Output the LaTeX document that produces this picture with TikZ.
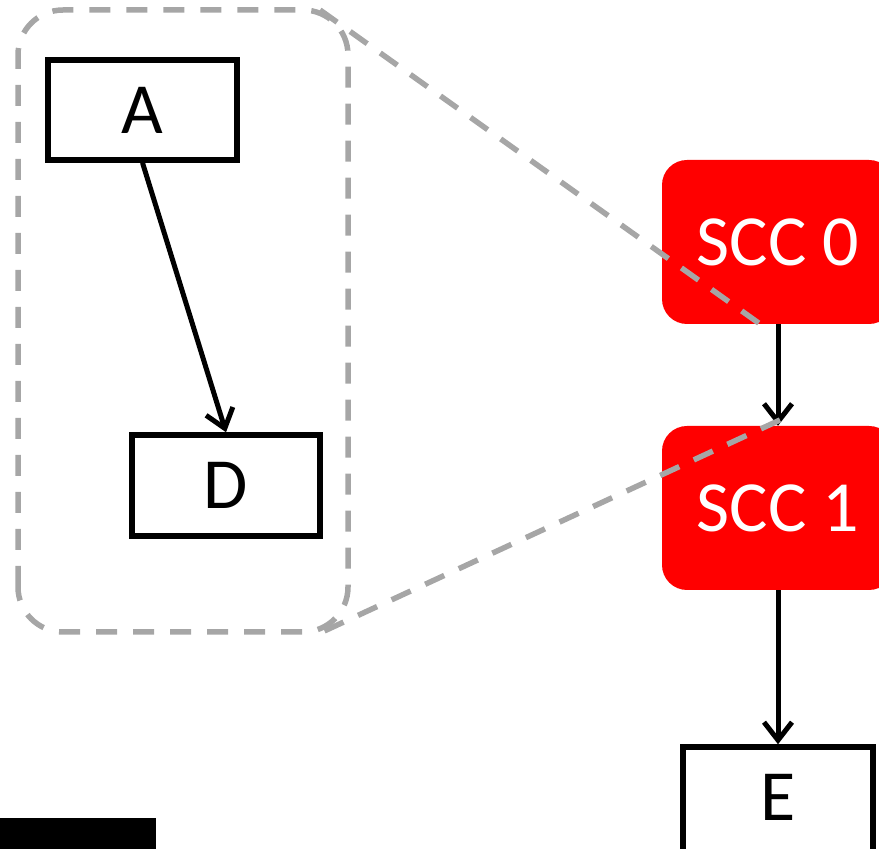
\documentclass[tikz,border=0pt]{standalone}
\usepackage{fontspec}
\setmainfont{Carlito}
\usetikzlibrary{arrows.meta}
\definecolor{grp}{HTML}{A6A6A6}
\definecolor{sccred}{HTML}{FF0000}
\begin{document}
\begin{tikzpicture}[x=1pt,y=1pt,
  plainbox/.style={draw=black,line width=5.5pt,fill=white,inner sep=0pt,font=\fontsize{72}{86}\selectfont},
  sccbox/.style={fill=sccred,rounded corners=25pt,inner sep=0pt,text=white,minimum width=232pt,minimum height=164pt,font=\fontsize{72}{86}\selectfont},
  edge/.style={draw=black,line width=5pt,-{Straight Barb[length=18pt,width=28pt,line width=5pt]}},
  grdash/.style={draw=grp,line width=5.5pt,dash pattern=on 21pt off 16pt}]
\useasboundingbox (0,0) rectangle (879,849);
\begin{scope}
\clip (0,0) rectangle (879,849);
\draw[grdash,rounded corners=45pt] (18,217) rectangle (348,839);
\node[plainbox,minimum width=189pt,minimum height=100pt] (A) at (142.5,739) {A};
\node[plainbox,minimum width=188pt,minimum height=101pt] (D) at (226,363.5) {D};
\node[sccbox] (S0) at (778,607) {SCC 0};
\node[sccbox] (S1) at (778,341) {SCC 1};
\node[plainbox,minimum width=190pt,minimum height=112pt,text depth=12pt] (E) at (778,46) {E};
\fill[black] (0,0) rectangle (156,31);
\draw[edge] (A.south) -- (D.north);
\draw[edge] (S0.south) -- (S1.north);
\draw[edge] (S1.south) -- (E.north);
\coordinate (g1) at (320,839);
\coordinate (g2) at (760,525);
\coordinate (g3) at (780,429);
\coordinate (g4) at (320,216);
\draw[grdash] (g1) -- (g2);
\draw[grdash] (g3) -- (g4);
\end{scope}
\end{tikzpicture}
\end{document}
